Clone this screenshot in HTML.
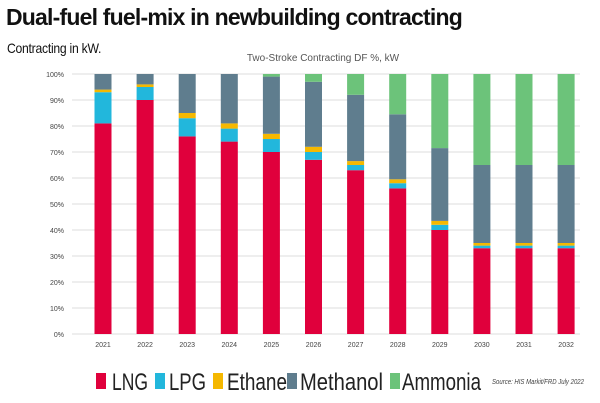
<!DOCTYPE html>
<html><head><meta charset="utf-8"><style>
body{margin:0;width:600px;height:403px;background:#fff;font-family:"Liberation Sans",sans-serif;overflow:hidden;position:relative}
#t{position:absolute;left:6px;top:4px;font-size:23px;font-weight:bold;letter-spacing:-0.8px;color:#111}
#s{position:absolute;left:7px;top:40px;font-size:14px;color:#111;letter-spacing:-0.3px;transform:scaleX(0.87);transform-origin:left}
</style></head><body>
<div id="t">Dual-fuel fuel-mix in newbuilding contracting</div>
<div id="s">Contracting in kW.</div>
<svg id="c" width="600" height="403" style="position:absolute;left:0;top:0"></svg>
<script>
const years=["2021","2022","2023","2024","2025","2026","2027","2028","2029","2030","2031","2032"];
const lng=[81,90,76,74,70,67,63,56,40,33,33,33];
const lpg=[12,5,7,5,5,3,2,2,2,1,1,1];
const ethane=[1,1,2,2,2,2,1.5,1.5,1.5,1,1,1];
const methanol=[6,4,15,19,22,25,25.5,25,28,30,30,30];
const ammonia=[0,0,0,0,1,3,8,15.5,28.5,35,35,35];
const yTicks=[0,10,20,30,40,50,60,70,80,90,100];
const seriesNames=["LNG","LPG","Ethane","Methanol","Ammonia"];
const colors=["#e0003c","#22b7dc","#f5b800","#5f7d8e","#6cc37a"];
const svg=document.getElementById('c');const NS="http://www.w3.org/2000/svg";
function mk(t,a){const e=document.createElementNS(NS,t);for(const k in a)e.setAttribute(k,a[k]);svg.appendChild(e);return e;}
const y=v=>334-2.6*v; const x=i=>103+i*42.1;
let ct=mk('text',{x:323,y:61,'font-size':10,fill:'#555','text-anchor':'middle','font-family':'Liberation Sans'});ct.textContent="Two-Stroke Contracting DF %, kW";

yTicks.forEach(v=>{const l=mk('line',{x1:72,x2:580,y1:y(v),y2:y(v),stroke:'#dcdcdc','stroke-width':1});

const t=mk('text',{x:64,y:y(v)+3,'font-size':7,fill:'#444','text-anchor':'end','font-family':'Liberation Sans'});t.textContent=v+"%";
});
const series=[lng,lpg,ethane,methanol,ammonia];
years.forEach((yr,i)=>{let cum=0;series.forEach((s,j)=>{const v=s[i];if(v>0){const r=mk('rect',{x:x(i)-8.5,width:17,y:y(cum+v),height:y(cum)-y(cum+v),fill:colors[j]});
}cum+=v;});
const t=mk('text',{x:x(i),y:347,'font-size':7,fill:'#444','text-anchor':'middle','font-family':'Liberation Sans'});t.textContent=yr;
});
const legX=[96,155,213,287,390];
const legTX=[112,169,227,300,402];
const legW=[36,37,60,83,79];
seriesNames.forEach((n,j)=>{const r=mk('rect',{x:legX[j],y:373,width:10,height:16,fill:colors[j]});

const t=mk('text',{x:legTX[j],y:390,'font-size':24,fill:'#222','font-family':'Liberation Sans',textLength:legW[j],lengthAdjust:'spacingAndGlyphs'});t.textContent=n;
});
const src=mk('text',{x:492,y:384,'font-size':7,fill:'#444','font-style':'italic','font-family':'Liberation Sans',textLength:92,lengthAdjust:'spacingAndGlyphs'});src.textContent="Source: HIS Markit/FRD July 2022";

</script>
</body></html>
